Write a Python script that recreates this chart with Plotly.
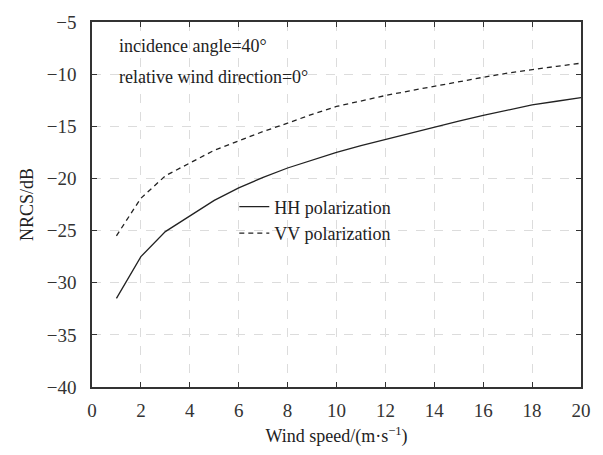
import plotly.graph_objects as go

wind_speed = list(range(1, 21))
hh_values = [-31.5, -27.5, -25.1, -23.6, -22.1, -20.9, -19.9, -19.0, -18.25, -17.5,
             -16.85, -16.25, -15.7, -15.1, -14.5, -13.95, -13.45, -12.95, -12.6, -12.25]
vv_values = [-25.5, -21.9, -19.75, -18.5, -17.3, -16.4, -15.5, -14.7, -13.85, -13.1,
             -12.55, -12.05, -11.6, -11.15, -10.7, -10.3, -9.9, -9.55, -9.25, -8.95]
x_ticks = list(range(0, 21, 2))
y_ticks = list(range(-40, -4, 5))

font_family = "Liberation Serif"

fig = go.Figure()
fig.add_trace(go.Scatter(x=wind_speed, y=hh_values, mode="lines", name="HH polarization",
                         line=dict(color="#222222", width=1.3, dash="solid")))
fig.add_trace(go.Scatter(x=wind_speed, y=vv_values, mode="lines", name="VV polarization",
                         line=dict(color="#222222", width=1.3, dash="5px,4px")))

axis_common = dict(
    showline=True, linecolor="#333333", linewidth=1.5, mirror="ticks",
    ticks="inside", ticklen=5, tickcolor="#333333", tickwidth=1.2,
    showgrid=True, gridcolor="#dcdcdc", griddash="dash", gridwidth=1,
    zeroline=False, tickfont=dict(family=font_family, size=19, color="#333333"),
)

fig.update_layout(
    width=603, height=455,
    margin=dict(l=92, r=20, t=17, b=65),
    paper_bgcolor="white", plot_bgcolor="white",
    font=dict(family=font_family, color="#222222"),
    xaxis=dict(range=[0, 20], tickvals=x_ticks, ticklabelstandoff=5, **axis_common,
               title=dict(text="Wind speed/(m·s<sup>−1</sup>)", font=dict(size=18, family=font_family), standoff=10)),
    yaxis=dict(range=[-40, -5], tickvals=y_ticks, ticklabelstandoff=10, **axis_common,
               title=dict(text="NRCS/dB", font=dict(size=18, family=font_family), standoff=8)),
    legend=dict(x=0.291, y=0.544, xanchor="left", yanchor="top", bgcolor="rgba(0,0,0,0)",
                font=dict(family=font_family, size=18, color="#222222"), tracegroupgap=0,
                itemwidth=30),
    showlegend=True,
)

fig.add_annotation(text="incidence angle=40°", xref="paper", yref="paper", x=0.051, y=0.933,
                   xanchor="left", yanchor="middle", showarrow=False,
                   font=dict(family=font_family, size=18, color="#222222"))
fig.add_annotation(text="relative wind direction=0°", xref="paper", yref="paper", x=0.051, y=0.850,
                   xanchor="left", yanchor="middle", showarrow=False,
                   font=dict(family=font_family, size=18, color="#222222"))

fig.write_html("out.html")
